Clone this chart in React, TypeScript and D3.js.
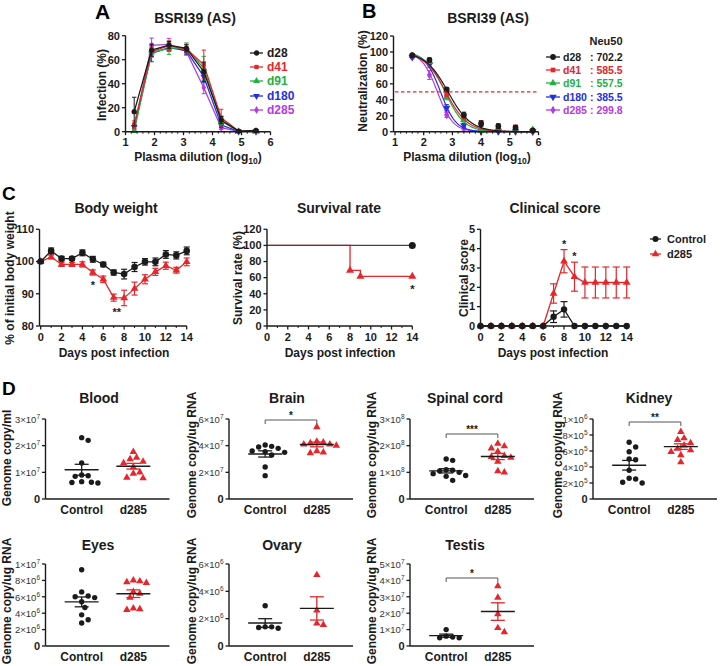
import React from 'react';
import * as d3 from 'd3';

const FONT = '"Liberation Sans", Arial, Helvetica, sans-serif';
const INK = '#1b1b1b';
const RED = '#e6262b';
const GREEN = '#22b03f';
const BLUE = '#2430dc';
const PURPLE = '#b43be4';

// ---------------- Panel A : infection ----------------
const dilutionA = [1.3, 1.9, 2.5, 3.1, 3.7, 4.3, 4.9, 5.5];
const timepoints = ['d28', 'd41', 'd91', 'd180', 'd285'];
const infD28 = [16.7, 68, 72.2, 69.4, 50, 9.7, 0.5, 1.0];
const infD41 = [6, 66.7, 71.7, 68.9, 56, 11.7, 0.5, 0.5];
const infD91 = [0.5, 66, 69.4, 70, 52.8, 8.9, 0.3, 0.3];
const infD180 = [4, 65.3, 70, 67.5, 45.8, 5.5, 0.2, 0.2];
const infD285 = [3, 72, 72.8, 66.7, 36.7, 3.3, 0.2, 0.2];
const infErrD28 = [12, 5, 3, 3, 8, 3, 0.5, 0.8];
const infErrD41 = [3, 4, 4, 4, 12, 7, 0.3, 0.3];
const infErrD91 = [1, 4, 5, 4, 10, 3, 0.3, 0.3];
const infErrD180 = [2, 7, 3, 3, 5, 2, 0.2, 0.2];
const infErrD285 = [2, 6, 5, 3, 5, 1.5, 0.2, 0.2];
const infTicks = [0, 20, 40, 60, 80];
const dilTicks = [1, 2, 3, 4, 5, 6];

// ---------------- Panel B : neutralization ----------------
const dilutionB = [1.6, 2.2, 2.8, 3.4, 4.0, 4.6, 5.2, 5.8];
const neuD28 = [96, 90, 53, 21, 10, 7, 5, 1.7];
const neuD41 = [95, 89, 47, 19, 11, 5, 5.5, 1];
const neuD91 = [95, 88, 43, 15, 1, 5, 2, 2.5];
const neuD180 = [93.5, 84, 30, 8, 1, 0.5, 0.5, 0.3];
const neuD285 = [94.5, 71, 21, 4, 0.5, 0.3, 0.2, 0.2];
const neuErrD28 = [1.5, 2.5, 2, 3.5, 3.5, 3, 2.5, 1];
const neuErrD41 = [1.5, 2, 3, 3, 3, 2, 3, 1];
const neuErrD91 = [1.5, 2, 3, 3, 1, 3, 1.5, 1.5];
const neuErrD180 = [2, 3, 4, 2, 1, 0.5, 0.5, 0.3];
const neuErrD285 = [1.5, 5.5, 3, 1.5, 0.5, 0.3, 0.2, 0.2];
const neu50 = [702.2, 585.5, 557.5, 385.5, 299.8];
const hillSlope = [1.1, 1.15, 1.3, 1.6, 1.6];
const neuTicks = [0, 20, 40, 60, 80, 100, 120];

// ---------------- Panel C ----------------
const days = [0, 1, 2, 3, 4, 5, 6, 7, 8, 9, 10, 11, 12, 13, 14];
const dayTicks = [0, 2, 4, 6, 8, 10, 12, 14];
const bwControl = [100, 103.3, 100.9, 100.9, 102.7, 100.7, 99.1, 96.6, 96.1, 98.3, 99.9, 99.9, 102.2, 101.9, 103.3];
const bwControlErr = [0.3, 0.9, 0.7, 0.5, 0.9, 0.9, 0.7, 0.8, 1.5, 1.4, 1.0, 1.2, 1.2, 1.1, 1.2];
const bwD285 = [100, 101.4, 99.1, 99.1, 99.1, 96.6, 94.5, 88.8, 88.7, 91.6, 94.5, 96.8, 98.7, 97.3, 99.9];
const bwD285Err = [0.3, 0.6, 0.6, 0.6, 0.8, 0.8, 1.0, 1.1, 2.4, 2.0, 1.4, 1.1, 1.1, 0.9, 1.2];
const bwTicks = [80, 90, 100, 110];

const survControlDays = [0, 14];
const survControl = [100, 100];
const survD285Days = [0, 8, 9, 14];
const survD285 = [100, 69, 61.5, 61.5];
const survTicks = [0, 20, 40, 60, 80, 100, 120];

const clinControl = [0, 0, 0, 0, 0, 0, 0, 0.48, 0.86, 0, 0, 0, 0, 0, 0];
const clinControlErr = [0, 0, 0, 0, 0, 0, 0, 0.3, 0.4, 0, 0, 0, 0, 0, 0];
const clinD285 = [0, 0, 0, 0, 0, 0, 0, 1.68, 3.35, 2.55, 2.25, 2.25, 2.25, 2.25, 2.25];
const clinD285Err = [0, 0, 0, 0, 0, 0, 0, 0.5, 0.6, 0.75, 0.8, 0.8, 0.8, 0.8, 0.8];
const clinTicks = [0, 1, 2, 3, 4, 5];
const groups = ['Control', 'd285'];

// ---------------- Panel D ----------------
const bloodCtrl = [2.3e7, 2.2e7, 1.35e7, 0.9e7, 0.87e7, 0.85e7, 0.65e7, 0.63e7, 0.62e7, 0.6e7];
const bloodD285 = [1.77e7, 1.55e7, 1.5e7, 1.4e7, 1.35e7, 1.2e7, 1.0e7, 0.95e7, 0.8e7, 0.78e7];
const brainCtrl = [4.05e7, 3.95e7, 3.9e7, 3.8e7, 3.6e7, 3.55e7, 3.5e7, 3.3e7, 2.4e7, 1.75e7];
const brainD285 = [5.4e7, 4.3e7, 4.25e7, 4.2e7, 4.1e7, 4.1e7, 4.0e7, 3.6e7, 3.5e7, 3.45e7];
const spinalCtrl = [1.5e8, 1.45e8, 1.1e8, 1.08e8, 1.05e8, 1.0e8, 0.95e8, 0.88e8, 0.85e8, 0.7e8];
const spinalD285 = [2.08e8, 1.98e8, 1.9e8, 1.78e8, 1.62e8, 1.58e8, 1.55e8, 1.4e8, 1.05e8, 1.0e8];
const kidneyCtrl = [7.1e5, 6.5e5, 5.9e5, 5.0e5, 4.9e5, 3.6e5, 2.6e5, 2.5e5, 2.0e5, 2.1e5];
const kidneyD285 = [8.4e5, 7.6e5, 7.4e5, 7.0e5, 6.7e5, 6.3e5, 6.1e5, 5.9e5, 5.5e5, 4.6e5];
const eyesCtrl = [9.3e6, 6.6e6, 6.1e6, 6.0e6, 5.9e6, 5.4e6, 4.7e6, 3.8e6, 3.2e6, 2.8e6];
const eyesD285 = [8.0e6, 7.9e6, 7.8e6, 7.7e6, 6.6e6, 6.4e6, 5.9e6, 4.6e6, 4.5e6, 4.4e6];
const ovaryCtrl = [2.95e6, 1.4e6, 1.35e6, 1.3e6, 1.4e6];
const ovaryD285 = [5.2e6, 2.6e6, 1.65e6, 1.55e6];
const testisCtrl = [1.0e7, 0.55e7, 0.5e7, 0.5e7, 0.6e7];
const testisD285 = [3.65e7, 2.95e7, 1.95e7, 1.1e7, 0.85e7];

const bloodTicks = [0, 1e7, 2e7, 3e7];
const brainTicks = [0, 2e7, 4e7, 6e7];
const spinalTicks = [0, 1e8, 2e8, 3e8];
const kidneyTicks = [0, 2e5, 4e5, 6e5, 8e5, 1e6];
const eyesTicks = [0, 2e6, 4e6, 6e6, 8e6, 1e7];
const ovaryTicks = [0, 2e6, 4e6, 6e6];
const testisTicks = [0, 1e7, 2e7, 3e7, 4e7, 5e7];

// ------------------------------------------------------------
type Lin = d3.ScaleLinear<number, number>;

function YAxis({ scale, x, ticks, fmt, len = 3.5, fs = 11 }: { scale: Lin; x: number; ticks: number[]; fmt?: (v: number) => any; len?: number; fs?: number }) {
  const d = scale.domain();
  return (
    <g>
      <line x1={x} x2={x} y1={scale(d[0])} y2={scale(d[1])} stroke={INK} strokeWidth={1.4} />
      {ticks.map((t) => (
        <g key={t}>
          <line x1={x - len} x2={x} y1={scale(t)} y2={scale(t)} stroke={INK} strokeWidth={1.3} />
          <text x={x - len - 2} y={scale(t) + 3.8} textAnchor="end" fontSize={fs} fontWeight="bold" fill={INK}>
            {fmt ? fmt(t) : String(t)}
          </text>
        </g>
      ))}
    </g>
  );
}

function XAxis({ scale, y, ticks, minor = [], x0, len = 3.5, fs = 11 }: { scale: Lin; y: number; ticks: number[]; minor?: number[]; x0: number; len?: number; fs?: number }) {
  const r = scale.range();
  return (
    <g>
      <line x1={x0} x2={r[1]} y1={y} y2={y} stroke={INK} strokeWidth={1.4} />
      {minor.map((t, i) => (
        <line key={'m' + i} x1={scale(t)} x2={scale(t)} y1={y} y2={y + 2} stroke={INK} strokeWidth={1} />
      ))}
      {ticks.map((t) => (
        <g key={t}>
          <line x1={scale(t)} x2={scale(t)} y1={y} y2={y + len} stroke={INK} strokeWidth={1.3} />
          <text x={scale(t)} y={y + 14.5} textAnchor="middle" fontSize={fs} fontWeight="bold" fill={INK}>
            {t}
          </text>
        </g>
      ))}
    </g>
  );
}

function Sym({ type, x, y, size, color, rot = 0 }: { type: any; x: number; y: number; size: number; color: string; rot?: number }) {
  const p = d3.symbol().type(type).size(size)() || '';
  return <path d={p} transform={`translate(${x},${y}) rotate(${rot})`} fill={color} />;
}

function ErrBar({ x, y1, y2, cap, color, w = 1.2 }: { x: number; y1: number; y2: number; cap: number; color: string; w?: number }) {
  return (
    <g stroke={color} strokeWidth={w}>
      <line x1={x} x2={x} y1={y1} y2={y2} />
      <line x1={x - cap} x2={x + cap} y1={y1} y2={y1} />
      <line x1={x - cap} x2={x + cap} y1={y2} y2={y2} />
    </g>
  );
}

function YLabel({ x, y, text, fs = 12 }: { x: number; y: number; text: any; fs?: number }) {
  return (
    <text transform={`translate(${x},${y}) rotate(-90)`} textAnchor="middle" dominantBaseline="central" fontSize={fs} fontWeight="bold" fill={INK}>
      {text}
    </text>
  );
}

function Title({ x, y, text, fs = 14 }: { x: number; y: number; text: string; fs?: number }) {
  return (
    <text x={x} y={y} textAnchor="middle" fontSize={fs} fontWeight="bold" fill={INK}>
      {text}
    </text>
  );
}

function Letter({ x, y, text, fs = 20 }: { x: number; y: number; text: string; fs?: number }) {
  return (
    <text x={x} y={y} fontSize={fs} fontWeight="bold" fill="#000">
      {text}
    </text>
  );
}

const seriesColors = [INK, RED, GREEN, BLUE, PURPLE];
const seriesSyms = [d3.symbolCircle, d3.symbolSquare, d3.symbolTriangle, d3.symbolTriangle, d3.symbolDiamond];
const seriesRot = [0, 0, 0, 180, 0];
const seriesSize = [22, 18, 20, 20, 18];

function dilLabel(x: number, y: number) {
  return (
    <text x={x} y={y} textAnchor="middle" fontSize={12} fontWeight="bold" fill={INK}>
      Plasma dilution (log
      <tspan fontSize={8.5} dy={3}>10</tspan>
      <tspan dy={-3}>)</tspan>
    </text>
  );
}

function minorTicks(a: number, b: number, step: number) {
  const out: number[] = [];
  for (let v = a; v <= b + 1e-9; v += step) {
    if (Math.abs(v - Math.round(v)) > 1e-6) out.push(v);
  }
  return out;
}

function PanelA() {
  const x = d3.scaleLinear().domain([1, 6]).range([125.5, 270.5]);
  const y = d3.scaleLinear().domain([0, 80]).range([131.7, 35.7]);
  const vals = [infD28, infD41, infD91, infD180, infD285];
  const errs = [infErrD28, infErrD41, infErrD91, infErrD180, infErrD285];
  const line = d3.line<number>().x((_, i) => x(dilutionA[i])).y((d) => y(d));
  const legendY = [53, 67, 81, 96, 110];
  const order = [4, 3, 2, 1, 0];
  return (
    <g>
      <Letter x={95} y={19} text="A" fs={21} />
      <Title x={195} y={23} text="BSRI39 (AS)" />
      <YLabel x={102} y={85} text="Infection (%)" />
      {dilLabel(198, 161)}
      {order.map((s) => (
        <g key={s}>
          <path d={line(vals[s]) || ''} fill="none" stroke={seriesColors[s]} strokeWidth={1.3} />
          {vals[s].map((v, i) => (
            <ErrBar key={'e' + i} x={x(dilutionA[i])} y1={y(v + errs[s][i])} y2={y(Math.max(0, v - errs[s][i]))} cap={2.2} color={seriesColors[s]} w={1} />
          ))}
          {vals[s].map((v, i) => (
            <Sym key={'p' + i} type={seriesSyms[s]} x={x(dilutionA[i])} y={y(v)} size={seriesSize[s]} color={seriesColors[s]} rot={seriesRot[s]} />
          ))}
        </g>
      ))}
      <YAxis scale={y} x={x(1)} ticks={infTicks} />
      <XAxis scale={x} y={y(0)} x0={x(1)} ticks={dilTicks} minor={minorTicks(1, 6, 0.2)} />
      {timepoints.map((t, s) => (
        <g key={t}>
          <line x1={250} x2={263} y1={legendY[s]} y2={legendY[s]} stroke={seriesColors[s]} strokeWidth={1.3} />
          <Sym type={seriesSyms[s]} x={256.5} y={legendY[s]} size={seriesSize[s]} color={seriesColors[s]} rot={seriesRot[s]} />
          <text x={267} y={legendY[s] + 4.2} fontSize={12} fontWeight="bold" fill={seriesColors[s]}>
            {t}
          </text>
        </g>
      ))}
    </g>
  );
}

function PanelB() {
  const x = d3.scaleLinear().domain([1, 6]).range([395, 538.5]);
  const y = d3.scaleLinear().domain([0, 120]).range([131.7, 36]);
  const vals = [neuD28, neuD41, neuD91, neuD180, neuD285];
  const errs = [neuErrD28, neuErrD41, neuErrD91, neuErrD180, neuErrD285];
  const grid = d3.range(1.6, 5.81, 0.02);
  const fit = (s: number) =>
    d3
      .line<number>()
      .x((g) => x(g))
      .y((g) => y(100 / (1 + Math.pow(10, (g - Math.log10(neu50[s])) * hillSlope[s]))))(grid) || '';
  const legendY = [57, 70, 83, 97, 110];
  const order = [4, 3, 2, 1, 0];
  return (
    <g>
      <Letter x={362} y={18} text="B" fs={20} />
      <Title x={488} y={23} text="BSRI39 (AS)" />
      <YLabel x={363} y={81} text="Neutralization (%)" />
      {dilLabel(467, 161)}
      {order.map((s) => (
        <g key={s}>
          <path d={fit(s)} fill="none" stroke={seriesColors[s]} strokeWidth={1.2} />
          {vals[s].map((v, i) => (
            <ErrBar key={'e' + i} x={x(dilutionB[i])} y1={y(v + errs[s][i])} y2={y(Math.max(0, v - errs[s][i]))} cap={2.2} color={seriesColors[s]} w={1} />
          ))}
          {vals[s].map((v, i) => (
            <Sym key={'p' + i} type={seriesSyms[s]} x={x(dilutionB[i])} y={y(v)} size={seriesSize[s] + 4} color={seriesColors[s]} rot={seriesRot[s]} />
          ))}
        </g>
      ))}
      <line x1={x(1)} x2={x(6)} y1={y(50)} y2={y(50)} stroke={RED} strokeWidth={1.1} strokeDasharray="3.5,2.5" />
      <YAxis scale={y} x={x(1) - 1.5} ticks={neuTicks} />
      <XAxis scale={x} y={y(0)} x0={x(1) - 1.5} ticks={dilTicks} minor={minorTicks(1, 6, 0.2)} />
      <text x={606} y={45} textAnchor="middle" fontSize={11} fontWeight="bold" fill={INK}>
        Neu50
      </text>
      {timepoints.map((t, s) => (
        <g key={t}>
          <line x1={546} x2={560} y1={legendY[s]} y2={legendY[s]} stroke={seriesColors[s]} strokeWidth={1.3} />
          <Sym type={seriesSyms[s]} x={553} y={legendY[s]} size={seriesSize[s] + 4} color={seriesColors[s]} rot={seriesRot[s]} />
          <text x={563} y={legendY[s] + 4} fontSize={10.5} fontWeight="bold" fill={seriesColors[s]}>
            {t}
          </text>
          <text x={590} y={legendY[s] + 4} fontSize={10.5} fontWeight="bold" fill={seriesColors[s]}>
            {': ' + neu50[s].toFixed(1)}
          </text>
        </g>
      ))}
    </g>
  );
}

function daysLabel(x: number) {
  return (
    <text x={x} y={357} textAnchor="middle" fontSize={12} fontWeight="bold" fill={INK}>
      Days post infection
    </text>
  );
}

function Star({ x, y, t, fs = 11 }: { x: number; y: number; t: string; fs?: number }) {
  return (
    <text x={x} y={y} textAnchor="middle" fontSize={fs} fontWeight="bold" fill={INK}>
      {t}
    </text>
  );
}

function PanelC() {
  const yTop = 229.3;
  const yBot = 326;
  // body weight
  const xb = d3.scaleLinear().domain([0, 14]).range([40.7, 186.7]);
  const yb = d3.scaleLinear().domain([80, 110]).range([yBot, yTop]);
  const lb = (arr: number[]) => d3.line<number>().x((_, i) => xb(days[i])).y((d) => yb(d))(arr) || '';
  // survival
  const xs = d3.scaleLinear().domain([0, 14]).range([267, 412.3]);
  const ys = d3.scaleLinear().domain([0, 120]).range([yBot, yTop]);
  const sRed = d3
    .line<number>()
    .curve(d3.curveStepAfter)
    .x((_, i) => xs(survD285Days[i]))
    .y((d) => ys(d))(survD285) || '';
  const sCtrl = d3
    .line<number>()
    .curve(d3.curveStepAfter)
    .x((_, i) => xs(survControlDays[i]))
    .y((d) => ys(d))(survControl) || '';
  // clinical
  const xc = d3.scaleLinear().domain([0, 14]).range([480.5, 626.7]);
  const yc = d3.scaleLinear().domain([0, 5]).range([yBot, yTop]);
  const lc = (arr: number[]) => d3.line<number>().x((_, i) => xc(days[i])).y((d) => yc(d))(arr) || '';
  const oddDays = days.filter((d) => d % 2 === 1);
  return (
    <g>
      <Letter x={2} y={200} text="C" fs={19} />
      {/* Body weight */}
      <Title x={116} y={213} text="Body weight" />
      <YLabel x={10} y={278} text="% of initial body weight" />
      {daysLabel(114)}
      <path d={lb(bwD285)} fill="none" stroke={RED} strokeWidth={1.3} />
      {bwD285.map((v, i) => (
        <ErrBar key={'re' + i} x={xb(days[i])} y1={yb(v + bwD285Err[i])} y2={yb(v - bwD285Err[i])} cap={3} color={RED} />
      ))}
      {bwD285.map((v, i) => (
        <Sym key={'rp' + i} type={d3.symbolTriangle} x={xb(days[i])} y={yb(v)} size={26} color={RED} />
      ))}
      <path d={lb(bwControl)} fill="none" stroke={INK} strokeWidth={1.3} />
      {bwControl.map((v, i) => (
        <ErrBar key={'ce' + i} x={xb(days[i])} y1={yb(v + bwControlErr[i])} y2={yb(v - bwControlErr[i])} cap={3} color={INK} />
      ))}
      {bwControl.map((v, i) => (
        <circle key={'cp' + i} cx={xb(days[i])} cy={yb(v)} r={3.3} fill={INK} />
      ))}
      <Star x={xb(5)} y={yb(91.5)} t="*" />
      <Star x={xb(7.3)} y={yb(83.1)} t="**" />
      <YAxis scale={yb} x={xb(0) - 1.2} ticks={bwTicks} />
      <XAxis scale={xb} y={yBot} x0={xb(0) - 1.2} ticks={dayTicks} minor={oddDays} />

      {/* Survival */}
      <Title x={339} y={213} text="Survival rate" />
      <YLabel x={238} y={278} text="Survival rate (%)" />
      {daysLabel(340)}
      <path d={sRed} fill="none" stroke={RED} strokeWidth={1.3} />
      <path d={sCtrl} fill="none" stroke="#444" strokeWidth={1.4} />
      {survD285.slice(1).map((v, i) => (
        <Sym key={'st' + i} type={d3.symbolTriangle} x={xs(survD285Days[i + 1])} y={ys(v)} size={28} color={RED} />
      ))}
      <circle cx={xs(survControlDays[1])} cy={ys(survControl[1])} r={3.5} fill={INK} />
      <Star x={xs(14)} y={ys(41.5)} t="*" />
      <YAxis scale={ys} x={xs(0)} ticks={survTicks} />
      <XAxis scale={xs} y={yBot} x0={xs(0)} ticks={dayTicks} minor={oddDays} />

      {/* Clinical score */}
      <Title x={555} y={213} text="Clinical score" />
      <YLabel x={464} y={278} text="Clinical score" />
      {daysLabel(553)}
      <path d={lc(clinD285)} fill="none" stroke={RED} strokeWidth={1.3} />
      {clinD285.map((v, i) =>
        clinD285Err[i] > 0 ? (
          <ErrBar key={'ke' + i} x={xc(days[i])} y1={yc(v + clinD285Err[i])} y2={yc(v - clinD285Err[i])} cap={3.5} color={RED} />
        ) : null
      )}
      {clinD285.map((v, i) => (
        <Sym key={'kp' + i} type={d3.symbolTriangle} x={xc(days[i])} y={yc(v)} size={26} color={RED} />
      ))}
      <path d={lc(clinControl)} fill="none" stroke={INK} strokeWidth={1.3} />
      {clinControl.map((v, i) =>
        clinControlErr[i] > 0 ? (
          <ErrBar key={'ce' + i} x={xc(days[i])} y1={yc(v + clinControlErr[i])} y2={yc(v - clinControlErr[i])} cap={3.5} color={INK} />
        ) : null
      )}
      {clinControl.map((v, i) => (
        <circle key={'cc' + i} cx={xc(days[i])} cy={yc(v)} r={3.2} fill={INK} />
      ))}
      <Star x={xc(8)} y={yc(4.05)} t="*" />
      <Star x={xc(9)} y={yc(3.4)} t="*" />
      <YAxis scale={yc} x={xc(0)} ticks={clinTicks} />
      <XAxis scale={xc} y={yBot} x0={xc(0)} ticks={dayTicks} minor={oddDays} />

      {/* legend */}
      {groups.map((g, i) => (
        <g key={g}>
          <line x1={650} x2={661} y1={239 + i * 15} y2={239 + i * 15} stroke={i ? RED : INK} strokeWidth={1.3} />
          {i ? (
            <Sym type={d3.symbolTriangle} x={655.5} y={239 + i * 15} size={24} color={RED} />
          ) : (
            <circle cx={655.5} cy={239} r={3} fill={INK} />
          )}
          <text x={667} y={239 + i * 15 + 4} fontSize={11} fontWeight="bold" fill={INK}>
            {g}
          </text>
        </g>
      ))}
    </g>
  );
}

function sciLabel(v: number) {
  if (v === 0) return <tspan fontWeight="bold" fontSize={11}>0</tspan>;
  const e = Math.floor(Math.log10(v) + 1e-9);
  const m = Math.round(v / Math.pow(10, e));
  return (
    <tspan fontWeight="normal" fontSize={9.5} fill="#333">
      {`${m}×10`}
      <tspan fontSize={6.5} dy={-4}>
        {e}
      </tspan>
    </tspan>
  );
}

function swarm(vals: number[], yScale: Lin, cx: number, d: number) {
  const idx = vals.map((_, i) => i).sort((a, b) => vals[b] - vals[a]);
  const placed: { x: number; y: number }[] = [];
  const xs: number[] = new Array(vals.length);
  const cands = [0];
  for (let j = 1; j < 16; j++) cands.push(j * d * 0.5, -j * d * 0.5);
  for (const i of idx) {
    const py = yScale(vals[i]);
    let chosen = cx;
    for (const c of cands) {
      const px = cx + c;
      if (placed.every((p) => Math.hypot(p.x - px, p.y - py) >= d)) {
        chosen = px;
        break;
      }
    }
    placed.push({ x: chosen, y: py });
    xs[i] = chosen;
  }
  return xs;
}

function ScatterPanel({
  axisX, y0, y1, ctrl, d285, ticks, title, titleX, titleY, ylab, ylabX, ylabY, sig, sigY,
}: {
  axisX: number; y0: number; y1: number; ctrl: number[]; d285: number[]; ticks: number[]; title: string; titleX: number; titleY: number;
  ylab: string; ylabX: number; ylabY: number; sig?: string; sigY?: number;
}) {
  const y = d3.scaleLinear().domain([0, ticks[ticks.length - 1]]).range([y0, y1]);
  const x = d3.scalePoint<string>().domain(groups).range([axisX, axisX + 124]).padding(0.7);
  const xr = d3.scaleLinear().domain([0, 1]).range([axisX, axisX + 124]);
  const sets = [ctrl, d285];
  const colors = [INK, RED];
  return (
    <g>
      <Title x={titleX} y={titleY} text={title} />
      <YLabel x={ylabX} y={ylabY} text={ylab} />
      {sets.map((vals, gi) => {
        const cx = x(groups[gi]) as number;
        const px = swarm(vals, y, cx, 6.5);
        const m = d3.mean(vals) as number;
        const sem = (d3.deviation(vals) as number) / Math.sqrt(vals.length);
        return (
          <g key={gi}>
            {vals.map((v, i) =>
              gi === 0 ? (
                <circle key={i} cx={px[i]} cy={y(v)} r={2.7} fill={INK} />
              ) : (
                <Sym key={i} type={d3.symbolTriangle} x={px[i]} y={y(v)} size={24} color={RED} />
              )
            )}
            <ErrBar x={cx} y1={y(m + sem)} y2={y(m - sem)} cap={7} color={colors[gi]} w={1.3} />
            <line x1={cx - 17} x2={cx + 17} y1={y(m)} y2={y(m)} stroke={INK} strokeWidth={1.4} />
          </g>
        );
      })}
      {sig && sigY !== undefined ? (
        <g>
          <path
            d={`M${x(groups[0])},${sigY + 4}V${sigY}H${x(groups[1])}V${sigY + 4}`}
            fill="none"
            stroke="#555"
            strokeWidth={1}
          />
          <text x={((x(groups[0]) as number) + (x(groups[1]) as number)) / 2} y={sigY - 1} textAnchor="middle" fontSize={10} fontWeight="bold" fill={INK}>
            {sig}
          </text>
        </g>
      ) : null}
      <YAxis scale={y} x={axisX} ticks={ticks} fmt={sciLabel} len={3.5} />
      <line x1={axisX} x2={xr(1)} y1={y0} y2={y0} stroke={INK} strokeWidth={1.4} />
      {groups.map((g) => (
        <text key={g} x={x(g)} y={y0 + 14.5} textAnchor="middle" fontSize={12} fontWeight="bold" fill={INK}>
          {g}
        </text>
      ))}
    </g>
  );
}

function PanelD() {
  const r1 = [499, 419];
  const r2 = [646, 564];
  const gl = 'Genome copy/ug RNA';
  return (
    <g>
      <Letter x={2} y={395} text="D" fs={19} />
      <ScatterPanel axisX={45.5} y0={r1[0]} y1={r1[1]} ctrl={bloodCtrl} d285={bloodD285} ticks={bloodTicks} title="Blood" titleX={99} titleY={403}
        ylab="Genome copy/ml" ylabX={7} ylabY={458} />
      <ScatterPanel axisX={229} y0={r1[0]} y1={r1[1]} ctrl={brainCtrl} d285={brainD285} ticks={brainTicks} title="Brain" titleX={287} titleY={403}
        ylab={gl} ylabX={192} ylabY={455} sig="*" sigY={420} />
      <ScatterPanel axisX={410} y0={r1[0]} y1={r1[1]} ctrl={spinalCtrl} d285={spinalD285} ticks={spinalTicks} title="Spinal cord" titleX={465} titleY={403}
        ylab={gl} ylabX={372} ylabY={455} sig="***" sigY={434} />
      <ScatterPanel axisX={593} y0={r1[0]} y1={r1[1]} ctrl={kidneyCtrl} d285={kidneyD285} ticks={kidneyTicks} title="Kidney" titleX={649} titleY={403}
        ylab={gl} ylabX={558} ylabY={455} sig="**" sigY={422} />
      <ScatterPanel axisX={45.5} y0={r2[0]} y1={r2[1]} ctrl={eyesCtrl} d285={eyesD285} ticks={eyesTicks} title="Eyes" titleX={98} titleY={550}
        ylab={gl} ylabX={7} ylabY={601} />
      <ScatterPanel axisX={229} y0={r2[0]} y1={r2[1]} ctrl={ovaryCtrl} d285={ovaryD285} ticks={ovaryTicks} title="Ovary" titleX={282} titleY={550}
        ylab={gl} ylabX={192} ylabY={601} />
      <ScatterPanel axisX={410} y0={r2[0]} y1={r2[1]} ctrl={testisCtrl} d285={testisD285} ticks={testisTicks} title="Testis" titleX={465} titleY={550}
        ylab={gl} ylabX={372} ylabY={601} sig="*" sigY={578} />
    </g>
  );
}

export default function App() {
  return (
    <svg
      width={720}
      height={666}
      viewBox="0 0 720 666"
      style={{ position: 'absolute', left: 0, top: 0, background: '#fff', fontFamily: FONT }}
    >
      <rect x={0} y={0} width={720} height={666} fill="#fff" />
      <PanelA />
      <PanelB />
      <PanelC />
      <PanelD />
    </svg>
  );
}
